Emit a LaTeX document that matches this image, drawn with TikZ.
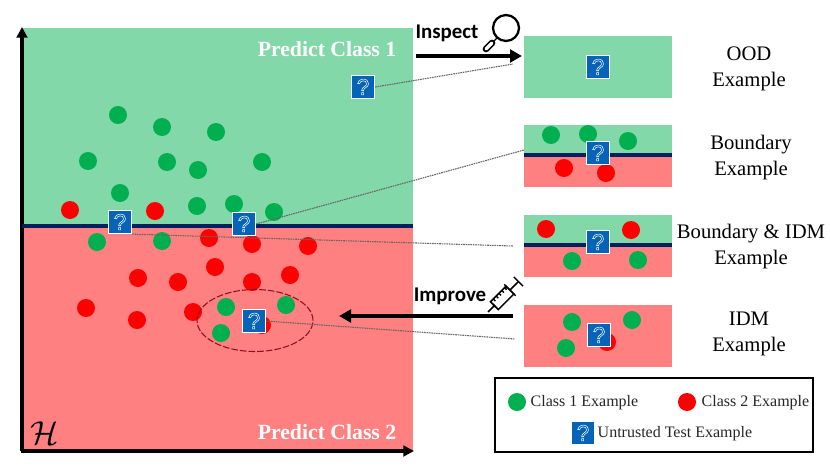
\documentclass[tikz,border=0pt]{standalone}
\usepackage{fontspec}
\setmainfont{Liberation Serif}
\newfontfamily\labelsans{Carlito}
\newfontfamily\iconsans{Liberation Sans}
\usetikzlibrary{arrows.meta,shapes.geometric}
\definecolor{panelgreen}{HTML}{82D8A8}
\definecolor{panelred}{HTML}{FF8080}
\definecolor{dotgreen}{HTML}{00B050}
\definecolor{dotred}{HTML}{FF0000}
\definecolor{boundarynavy}{HTML}{002060}
\definecolor{iconblue}{HTML}{0563B8}
\definecolor{linkgray}{HTML}{666666}
\definecolor{ringred}{HTML}{8E1020}
\newcommand{\qmark}{{\iconsans\fontsize{17}{17}\selectfont\special{pdf:code q 1 Tr 0.4 w 1 1 1 RG}?\special{pdf:code Q}}}
\tikzset{
  x=0.75pt,y=-0.75pt,
  gdot/.style={circle,fill=dotgreen,minimum size=13.5pt,inner sep=0pt},
  rdot/.style={circle,fill=dotred,minimum size=13.5pt,inner sep=0pt},
  qicon/.style={rectangle,fill=iconblue,draw=white,line width=0.7pt,minimum size=17.5pt,inner sep=0pt,text=white},
  link/.style={linkgray,line width=0.8pt,dash pattern=on 1.2pt off 0.6pt},
  bigarrow/.style={black,line width=3pt,-{Triangle[length=9pt,width=9.5pt]}},
  bound/.style={boundarynavy,line width=2.6pt},
  side/.style={align=center,font=\fontsize{15.5}{19.5}\selectfont},
  legendtext/.style={anchor=west,font=\fontsize{12}{13}\selectfont,text=black!85},
  verb/.style={font=\labelsans\bfseries\fontsize{15.7}{16}\selectfont},
  region/.style={text=white,font=\bfseries\fontsize{16.3}{17}\selectfont}
}
\begin{document}
\begin{tikzpicture}
\useasboundingbox (0,0) rectangle (830,467);
\fill[white] (0,0) rectangle (830,467);
% main panel
\fill[panelgreen] (22,28) rectangle (413,226);
\fill[panelred] (22,226) rectangle (413,451);
\draw[black,line width=2.6pt,-{Triangle[length=8pt,width=8pt]}] (22,451) -- (22,27);
\draw[black,line width=2.6pt,-{Triangle[length=8pt,width=8pt]}] (21,451) -- (414,451);
\node[region] (pc1) at (327,49) {Predict Class 1};
\node[region] (pc2) at (327,432) {Predict Class 2};
\node (hs) at (45,433) {\fontsize{23}{23}\selectfont$\mathcal{H}$};
% right panels
\fill[panelgreen] (524,36) rectangle (672,98);
\fill[panelgreen] (524,125) rectangle (672,155);
\fill[panelred] (524,155) rectangle (672,187);
\fill[panelgreen] (524,215) rectangle (672,245);
\fill[panelred] (524,245) rectangle (672,277);
\fill[panelred] (524,305) rectangle (672,367);
% main dots
\foreach \p [count=\i] in {(118,115),(162,127),(216,132),(88,161),(167,162),(198,170),(262,162),(120,193),(197,206),(234,204),(274,212),(97,242),(162,241),(226,307),(286,305),(221,333)}
  \node[gdot] (g\i) at \p {};
\foreach \p [count=\i] in {(70,210),(155,211),(209,238),(252,244),(308,246),(215,267),(138,278),(178,282),(252,282),(290,275),(86,308),(137,320),(193,312),(262,325)}
  \node[rdot] (r\i) at \p {};
\draw[bound] (22,226) -- (413,226);
% panel dots
\node[gdot] (bg1) at (551,135) {};
\node[gdot] (bg2) at (588,134) {};
\node[gdot] (bg3) at (628,141) {};
\node[rdot] (br1) at (564,168) {};
\node[rdot] (br2) at (606,173) {};
\draw[bound] (524,155) -- (672,155);
\node[rdot] (dr1) at (546,229) {};
\node[rdot] (dr2) at (631,230) {};
\node[gdot] (dg1) at (572,261) {};
\node[gdot] (dg2) at (638,260) {};
\draw[bound] (524,245) -- (672,245);
\node[gdot] (ig1) at (572,322) {};
\node[gdot] (ig2) at (632,320) {};
\node[gdot] (ig3) at (566,348) {};
\node[rdot] (ir1) at (607,342) {};
% ellipse
\node[draw=ringred,dash pattern=on 5pt off 1.5pt,line width=0.8pt,ellipse,minimum width=87pt,minimum height=46.5pt,inner sep=0pt] (focus) at (255,320.5) {};
% connectors' free ends
\coordinate (e1) at (513,64);
\coordinate (e2) at (524,150);
\coordinate (e3) at (513,246);
\coordinate (e4) at (515,339);
\coordinate (a1s) at (416,56);
\coordinate (a1e) at (522,56);
\coordinate (a2s) at (513,316);
\coordinate (a2e) at (339,316);
% icons
\node[qicon] (q1) at (363,87) {\qmark};
\node[qicon] (q2) at (120,222) {\qmark};
\node[qicon] (q3) at (244,224) {\qmark};
\node[qicon] (q4) at (254,321) {\qmark};
\node[qicon] (po) at (598,67) {\qmark};
\node[qicon] (pb) at (598,153) {\qmark};
\node[qicon] (pd) at (598,242) {\qmark};
\node[qicon] (pi) at (599,335) {\qmark};
\draw[link] (q1.east) -- (e1);
\draw[link] (q3.east) -- (e2);
\draw[link] (q2.south east) -- (e3);
\draw[link] (q4.east) -- (e4);
% arrows
\draw[bigarrow] (a1s) -- (a1e);
\draw[bigarrow] (a2s) -- (a2e);
\node[verb] (ins) at (447,33) {Inspect};
\node[verb] (imp) at (450,296) {Improve};
% magnifier
\draw[black,line width=1.7pt] (506,28) circle (13);
\draw[black,line width=1pt] (497,38) -- (493,42);
\draw[black,line width=5pt,line cap=round] (492,43) -- (486,49);
\draw[white,line width=2.4pt,line cap=round] (492,43) -- (486,49);
% syringe
\begin{scope}[shift={(488,312)},rotate=45,line width=1.1pt,black]
\draw (0,0) -- (9,0);
\draw (9,-2) -- (9,2);
\draw (9,-5.5) rectangle (31,5.5);
\draw (31,-8) -- (31,8);
\draw (31,0) -- (43,0);
\draw (43,-6.5) -- (43,6.5);
\foreach \t in {13,17,21,25,29} \draw (\t,-5.5) -- (\t,-2.5);
\end{scope}
% side labels
\node[side] (lo) at (749,69) {OOD\\Example};
\node[side] (lb) at (751,158) {Boundary\\Example};
\node[side] (ld) at (751,247) {Boundary \& IDM\\Example};
\node[side] (li) at (749,334) {IDM\\Example};
% legend
\draw[black,line width=1.8pt] (495,378) rectangle (813,452);
\node[gdot] (lg) at (517,402) {};
\node[rdot] (lr) at (687,402) {};
\node[qicon] (lq) at (583,433) {\qmark};
\node[legendtext] (lgt) at (526,403) {Class 1 Example};
\node[legendtext] (lrt) at (697,403) {Class 2 Example};
\node[legendtext] (lqt) at (593,434) {Untrusted Test Example};
\end{tikzpicture}
\end{document}
